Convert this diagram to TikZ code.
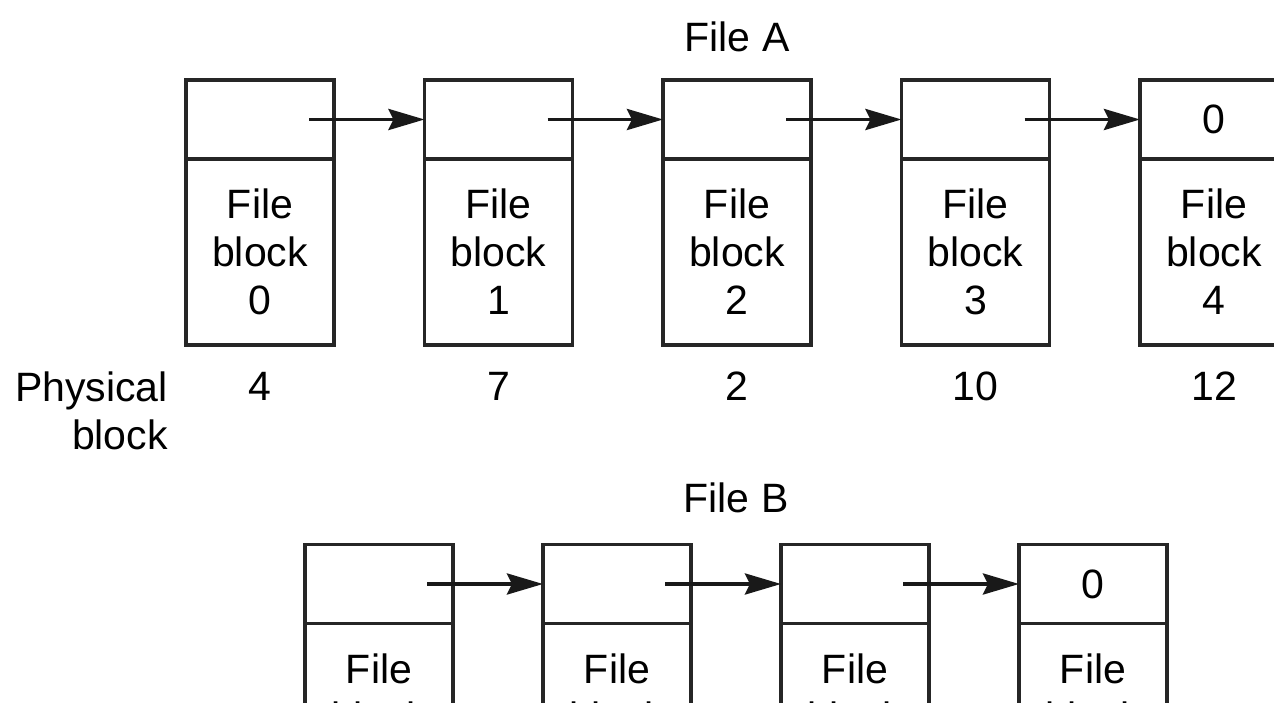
\documentclass[tikz,border=0pt]{standalone}
\usepackage{fontspec}
\setmainfont{Liberation Sans}
\usetikzlibrary{arrows.meta, positioning, calc}
\newcommand{\blockfont}{\fontsize{41}{48}\selectfont}
\tikzset{
    ptrcell/.style={rectangle, draw=black!85, line width=3.2pt, outer sep=0pt, inner sep=0pt, minimum width=148pt, minimum height=79pt, font=\blockfont},
    datacell/.style={ptrcell, minimum height=186pt, align=center},
    lbl/.style={inner sep=0pt, font=\blockfont},
    nxt/.style={-{Stealth[length=36pt, width=21pt, inset=5pt]}, line width=3.8pt, black!90},
}

\begin{document}
\begin{tikzpicture}[x=1pt, y=1pt, node distance=90.5pt]
\useasboundingbox (0,0) rectangle (1274,702);
\clip (0,0) rectangle (1274,702);

% ── File A: pointer cells ──
\node[ptrcell] (a0p) at (260, 582.5) {};
\node[ptrcell, right=of a0p] (a1p) {};
\node[ptrcell, right=of a1p] (a2p) {};
\node[ptrcell, right=of a2p] (a3p) {};
\node[ptrcell, right=of a3p] (a4p) {0};

% ── File A: data cells ──
\node[datacell, below=0pt of a0p] (a0d) {File\\block\\0};
\node[datacell, below=0pt of a1p] (a1d) {File\\block\\1};
\node[datacell, below=0pt of a2p] (a2d) {File\\block\\2};
\node[datacell, below=0pt of a3p] (a3d) {File\\block\\3};
\node[datacell, below=0pt of a4p] (a4d) {File\\block\\4};

% ── File A: links ──
\draw[nxt] ([xshift=-25pt]a0p.east) -- (a1p.west);
\draw[nxt] ([xshift=-25pt]a1p.east) -- (a2p.west);
\draw[nxt] ([xshift=-25pt]a2p.east) -- (a3p.west);
\draw[nxt] ([xshift=-25pt]a3p.east) -- (a4p.west);

% ── Titles and physical blocks ──
\node[lbl, above=28pt of a2p] (fileA) {File A};
\node[lbl, below=27pt of a0d] (a0n) {4};
\node[lbl, below=27pt of a1d] (a1n) {7};
\node[lbl, below=27pt of a2d] (a2n) {2};
\node[lbl, below=27pt of a3d] (a3n) {10};
\node[lbl, below=27pt of a4d] (a4n) {12};
\node[lbl, align=right, anchor=north east] (physlbl) at ([xshift=-18pt]a0d.south west |- a0n.north) {Physical\\block};

% ── File B ──
\node[ptrcell] (b0p) at (379, 118) {};
\node[ptrcell, right=90pt of b0p] (b1p) {};
\node[ptrcell, right=90pt of b1p] (b2p) {};
\node[ptrcell, right=90pt of b2p] (b3p) {0};

\node[datacell, below=0pt of b0p] (b0d) {File\\block\\0};
\node[datacell, below=0pt of b1p] (b1d) {File\\block\\1};
\node[datacell, below=0pt of b2p] (b2d) {File\\block\\2};
\node[datacell, below=0pt of b3p] (b3d) {File\\block\\3};

\draw[nxt] ([xshift=-26pt]b0p.east) -- (b1p.west);
\draw[nxt] ([xshift=-26pt]b1p.east) -- (b2p.west);
\draw[nxt] ([xshift=-26pt]b2p.east) -- (b3p.west);

\coordinate (bmid) at ($(b1p.north)!0.5!(b2p.north)$);
\node[lbl, above=31pt of bmid] (fileB) {File B};

\end{tikzpicture}
\end{document}
